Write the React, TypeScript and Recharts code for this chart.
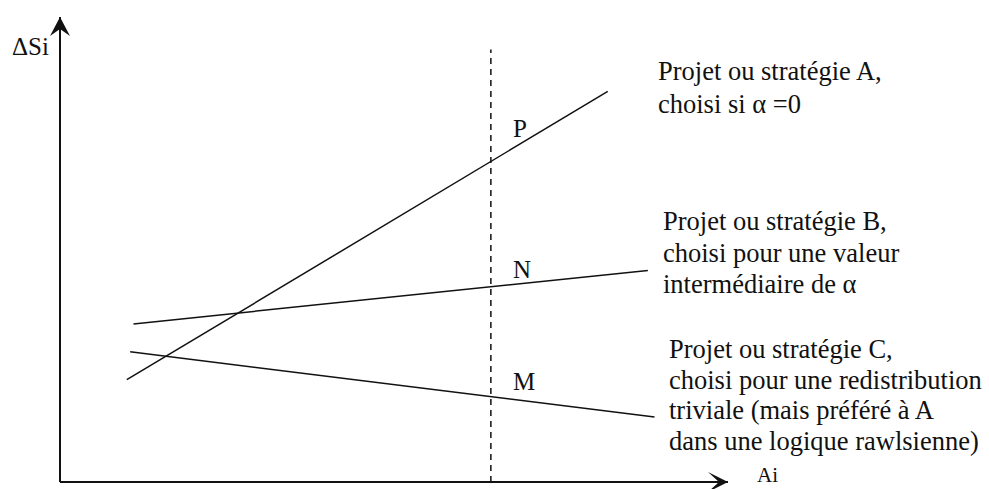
import { LineChart, Line, XAxis, YAxis, ReferenceLine, ReferenceDot, Customized } from "recharts";

// abstract units: x and y both run 0..10 over the plot area
const lineA = [
  { x: 1.0, y: 2.2 },
  { x: 8.2, y: 8.4 },
];
const lineB = [
  { x: 1.1, y: 3.4 },
  { x: 8.8, y: 4.55 },
];
const lineC = [
  { x: 1.05, y: 2.8 },
  { x: 8.9, y: 1.4 },
];
const cutX = 6.45;
const cutTop = 9.3;

const labelA = ["Projet ou stratégie A,", "choisi si α =0"];
const labelB = ["Projet ou stratégie B,", "choisi pour une valeur", "intermédiaire de α"];
const labelC = [
  "Projet ou stratégie C,",
  "choisi pour une redistribution",
  "triviale (mais préféré à A",
  "dans une logique rawlsienne)",
];

const ink = "#111";
const serif = { fontFamily: "Liberation Serif, DejaVu Serif, serif" };

const Block = ({ lines, x, y, step }: { lines: string[]; x: number; y: number; step: number }) => (
  <g>
    {lines.map((t, i) => (
      <text key={i} x={x} y={y + i * step} style={serif} fontSize={26.5} fill={ink}>
        {t}
      </text>
    ))}
  </g>
);

const Annotations = () => (
  <g>
    <text x={12} y={55} style={serif} fontSize={25} fill={ink}>ΔSi</text>
    <text x={757} y={482} style={serif} fontSize={21} fill={ink}>Ai</text>
    <text x={513} y={137} style={serif} fontSize={25} fill={ink}>P</text>
    <text x={513} y={278} style={serif} fontSize={25} fill={ink}>N</text>
    <text x={513} y={390} style={serif} fontSize={25} fill={ink}>M</text>
    <Block lines={labelA} x={658} y={80} step={33} />
    <Block lines={labelB} x={663} y={230} step={31.5} />
    <Block lines={labelC} x={669} y={358} step={30.7} />
  </g>
);

const upArrow = (p: any) => (
  <polygon
    points={`${p.cx},${p.cy} ${p.cx + 10},${p.cy + 19} ${p.cx},${p.cy + 12} ${p.cx - 10},${p.cy + 19}`}
    fill={ink}
  />
);

const rightArrow = (p: any) => (
  <polygon
    points={`${p.cx},${p.cy} ${p.cx - 20},${p.cy - 10} ${p.cx - 9},${p.cy} ${p.cx - 20},${p.cy + 10}`}
    fill={ink}
  />
);

export default function App() {
  return (
    <div style={{ position: "absolute", left: 0, top: 0, background: "#fff" }}>
      <LineChart width={989} height={489} margin={{ top: 17, right: 261, bottom: 7, left: 60 }}>
        <XAxis type="number" dataKey="x" domain={[0, 10]} hide allowDataOverflow />
        <YAxis type="number" domain={[0, 10]} hide allowDataOverflow />
        <ReferenceLine segment={[{ x: 0, y: 0 }, { x: 10, y: 0 }]} stroke={ink} strokeWidth={2} ifOverflow="visible" />
        <ReferenceLine segment={[{ x: 0, y: 0 }, { x: 0, y: 10 }]} stroke={ink} strokeWidth={2} ifOverflow="visible" />
        <ReferenceLine
          segment={[{ x: cutX, y: 0 }, { x: cutX, y: cutTop }]}
          stroke={ink}
          strokeWidth={1.5}
          strokeDasharray="6 5"
          ifOverflow="visible"
        />
        <ReferenceDot x={0} y={10} r={0} shape={upArrow} ifOverflow="visible" />
        <ReferenceDot x={10} y={0} r={0} shape={rightArrow} ifOverflow="visible" />
        <Line data={lineA} dataKey="y" type="linear" stroke={ink} strokeWidth={1.5} dot={false} isAnimationActive={false} />
        <Line data={lineB} dataKey="y" type="linear" stroke={ink} strokeWidth={1.5} dot={false} isAnimationActive={false} />
        <Line data={lineC} dataKey="y" type="linear" stroke={ink} strokeWidth={1.5} dot={false} isAnimationActive={false} />
        <Customized component={Annotations} />
      </LineChart>
    </div>
  );
}
